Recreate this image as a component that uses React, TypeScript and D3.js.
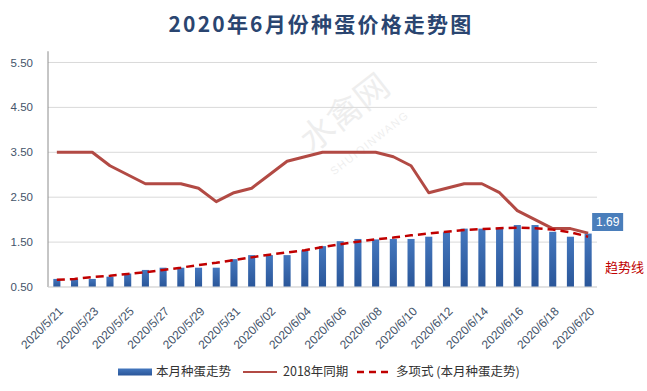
import React from "react";
import * as d3 from "d3";

const dates = [
  "2020/5/21","2020/5/22","2020/5/23","2020/5/24","2020/5/25","2020/5/26","2020/5/27","2020/5/28",
  "2020/5/29","2020/5/30","2020/5/31","2020/6/01","2020/6/02","2020/6/03","2020/6/04","2020/6/05",
  "2020/6/06","2020/6/07","2020/6/08","2020/6/09","2020/6/10","2020/6/11","2020/6/12","2020/6/13",
  "2020/6/14","2020/6/15","2020/6/16","2020/6/17","2020/6/18","2020/6/19","2020/6/20",
];
const thisMonth = [
  0.68, 0.68, 0.68, 0.73, 0.8, 0.88, 0.93, 0.93, 0.93, 0.93, 1.12, 1.21, 1.21, 1.21, 1.32, 1.41,
  1.52, 1.57, 1.56, 1.57, 1.57, 1.62, 1.72, 1.8, 1.8, 1.82, 1.88, 1.88, 1.73, 1.62, 1.69,
];
const sameTime2018 = [
  3.5, 3.5, 3.5, 3.2, 3.0, 2.8, 2.8, 2.8, 2.7, 2.4, 2.6, 2.7, 3.0, 3.3, 3.4, 3.5,
  3.5, 3.5, 3.5, 3.4, 3.2, 2.6, 2.7, 2.8, 2.8, 2.6, 2.2, 2.0, 1.8, 1.8, 1.7,
];
const trend = [
  0.66, 0.68, 0.72, 0.75, 0.79, 0.83, 0.88, 0.93, 0.99, 1.04, 1.1, 1.16, 1.22, 1.27, 1.32, 1.39,
  1.45, 1.51, 1.56, 1.6, 1.65, 1.69, 1.73, 1.77, 1.79, 1.81, 1.82, 1.81, 1.78, 1.72, 1.62,
];
const yTicks = [0.5, 1.5, 2.5, 3.5, 4.5, 5.5];
const title = "2020年6月份种蛋价格走势图";
const legendLabels = ["本月种蛋走势", "2018年同期", "多项式 (本月种蛋走势)"];
const lastLabel = "1.69";
const trendNote = "趋势线";

const W = 647;
const H = 391;
const left = 48;
const right = 597;
const top = 51.25;
const bottom = 287;
const font = "'Liberation Sans', 'Noto Sans CJK SC', sans-serif";
const cjk = "'Noto Sans CJK SC', 'Liberation Sans', sans-serif";

export default function App() {
  const x = d3.scaleBand<string>().domain(dates).range([left, right]).paddingInner(0.6).paddingOuter(0.3);
  const xc = (d: string) => (x(d) as number) + x.bandwidth() / 2;
  const y = d3.scaleLinear().domain([0.5, 5.75]).range([bottom, top]);

  const line = d3
    .line<number>()
    .x((_, i) => xc(dates[i]))
    .y((v) => y(v));

  const lastX = xc(dates[dates.length - 1]);

  return (
    <svg width={W} height={H} style={{ position: "absolute", left: 0, top: 0, background: "#fff" }}>
      <defs>
        <linearGradient id="barGrad" x1="0" y1="0" x2="0" y2="1">
          <stop offset="0%" stopColor="#4477BE" />
          <stop offset="100%" stopColor="#2A5699" />
        </linearGradient>
      </defs>
      <rect x={0} y={0} width={W} height={H} fill="#fff" />
      <text x={321} y={32} textAnchor="middle" fontFamily={cjk} fontWeight="bold" fontSize={21} letterSpacing={2.2} fill="#2A4570">
        {title}
      </text>

      {/* watermark */}
      <g opacity={0.08} fill="#333">
        <text transform="translate(352,122) rotate(-38)" textAnchor="middle" fontFamily={cjk} fontSize={34}>水禽网</text>
        <text transform="translate(372,146) rotate(-38)" textAnchor="middle" fontFamily={font} fontSize={11} letterSpacing={1.5}>SHUIQINWANG</text>
      </g>

      {/* gridlines */}
      {yTicks.map((t) => (
        <line key={t} x1={left} x2={right} y1={y(t)} y2={y(t)} stroke="#D9D9D9" strokeWidth={1} />
      ))}
      {yTicks.map((t) => (
        <text key={"l" + t} x={33} y={y(t)} dy="0.35em" textAnchor="end" fontFamily={font} fontSize={11.5} fill="#44546A">
          {t.toFixed(2)}
        </text>
      ))}
      <line x1={left} x2={left} y1={top} y2={bottom} stroke="#8C8C8C" strokeWidth={1} />

      {/* bars */}
      {thisMonth.map((v, i) => (
        <rect key={i} x={x(dates[i])} y={y(v)} width={x.bandwidth()} height={bottom - y(v)} fill="url(#barGrad)" />
      ))}

      {/* 2018 line */}
      <path d={line(sameTime2018) || ""} fill="none" stroke="#B24A44" strokeWidth={3} strokeLinejoin="round" />
      {/* trend */}
      <path d={line(trend) || ""} fill="none" stroke="#C00000" strokeWidth={2.5} strokeDasharray="8,5" />

      {/* x axis */}
      <line x1={left} x2={right} y1={bottom} y2={bottom} stroke="#D9D9D9" strokeWidth={1} />
      {dates.map((d, i) =>
        i % 2 === 0 ? (
          <text
            key={d}
            transform={`translate(${xc(d) + 4},${309}) rotate(-45)`}
            textAnchor="end"
            dy="0.35em"
            fontFamily={font}
            fontSize={12}
            fill="#44546A"
          >
            {d}
          </text>
        ) : null
      )}

      {/* last value label */}
      <rect x={lastX + 4} y={213} width={31} height={18} fill="#4A7EBB" />
      <text x={lastX + 19.5} y={222} dy="0.35em" textAnchor="middle" fontFamily={font} fontSize={12} fill="#fff">
        {lastLabel}
      </text>
      <text x={605} y={272} fontFamily={cjk} fontSize={13} fill="#C00000">
        {trendNote}
      </text>

      {/* legend */}
      <rect x={118} y={368.5} width={34} height={7} fill="url(#barGrad)" />
      <text x={156} y={372} dy="0.35em" fontFamily={cjk} fontSize={12.5} fill="#333">{legendLabels[0]}</text>
      <line x1={243} x2={277} y1={372} y2={372} stroke="#B24A44" strokeWidth={2} />
      <text x={283} y={372} dy="0.35em" fontFamily={cjk} fontSize={12.5} fill="#333">{legendLabels[1]}</text>
      <line x1={357} x2={392} y1={372} y2={372} stroke="#C00000" strokeWidth={2.5} strokeDasharray="7,5" />
      <text x={396} y={372} dy="0.35em" fontFamily={cjk} fontSize={12.5} fill="#333">{legendLabels[2]}</text>
    </svg>
  );
}
